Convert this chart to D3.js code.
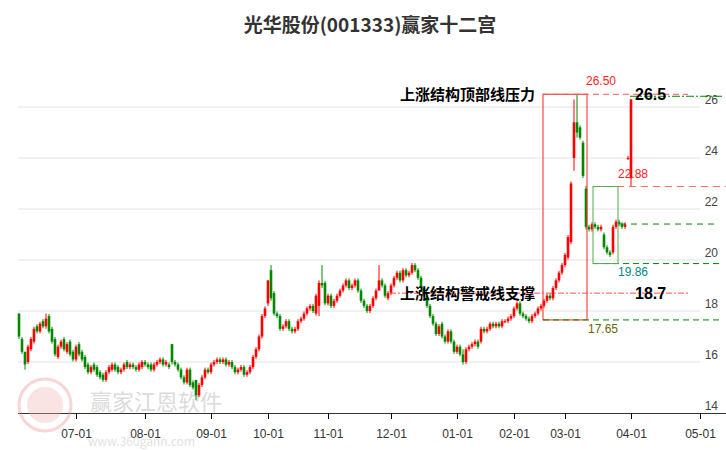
<!DOCTYPE html><html><head><meta charset="utf-8"><script src="https://cdn.jsdelivr.net/npm/d3@7"></script>
<style>body{margin:0;background:#fff}svg{font-family:"Noto Sans CJK SC","Noto Sans",sans-serif}</style></head><body><svg id="c" width="726" height="450"></svg><script>
const closes=[17.0,16.4,15.9,16.6,16.9,17.3,17.2,17.5,17.4,17.7,17.2,16.8,16.3,16.6,16.8,16.5,16.7,16.3,16.1,
16.6,16.3,16.1,15.8,15.6,15.8,15.7,15.5,15.4,15.3,15.6,15.8,15.9,15.7,15.6,15.7,15.9,15.8,15.9,15.8,15.7,15.9,16.0,
15.9,15.8,15.7,15.9,16.0,16.1,15.9,16.0,15.8,16.0,15.9,15.7,15.4,15.2,15.7,15.1,15.0,14.7,15.1,15.4,15.7,15.6,
15.9,16.0,16.1,16.0,16.1,15.9,16.0,15.8,15.6,15.7,15.8,15.5,15.6,15.8,16.2,16.5,17.0,17.8,18.1,
19.2,18.5,17.9,17.8,17.3,17.4,17.6,17.3,17.2,17.3,17.6,17.7,17.9,18.1,18.2,18.0,18.6,19.1,19.0,18.3,
18.6,18.2,18.4,18.6,18.8,19.0,19.2,18.9,19.0,19.2,18.8,18.4,18.2,18.0,18.2,18.5,18.8,19.2,19.0,18.6,18.7,
19.0,19.3,19.5,19.2,19.6,19.4,19.5,19.8,19.6,19.3,18.9,18.6,18.2,17.8,17.5,17.1,17.4,17.0,16.8,17.2,16.8,16.4,
16.6,16.3,16.0,16.5,16.6,16.7,16.8,16.6,17.3,17.2,17.3,17.5,17.4,17.5,17.4,17.6,17.6,17.7,17.8,
18.1,18.3,17.9,17.8,17.7,17.6,17.8,17.9,18.1,18.2,18.4,18.6,18.5,18.9,19.2,19.5,19.8,
20.2,20.9,23.0,25.4,25.0,24.8,23.3,21.3,21.2,21.4,21.3,21.2,21.3,20.5,20.3,20.2,21.3,21.5,21.4,21.3,21.4,24.0,26.3];
const opens=[17.9,16.9,16.4,16.0,16.5,16.8,17.4,17.2,17.6,17.4,17.8,17.3,16.9,16.2,16.6,16.9,16.4,16.8,16.4,
16.1,16.7,16.4,16.2,15.9,15.6,15.9,15.8,15.6,15.5,15.3,15.6,15.7,15.9,15.8,15.6,15.7,16.0,15.8,15.9,15.8,15.7,15.8,
16.0,15.9,15.9,15.7,15.9,16.0,16.1,15.9,15.9,16.7,16.0,15.9,15.7,15.4,15.2,15.7,15.2,15.3,14.7,15.1,15.4,15.7,
15.6,15.9,16.0,16.1,16.0,16.1,15.9,16.0,15.8,15.6,15.7,15.8,15.5,15.6,15.8,16.2,16.5,17.0,17.8,
18.3,19.6,18.7,17.9,17.8,17.3,17.4,17.6,17.3,17.2,17.3,17.6,17.7,17.9,18.1,18.2,17.9,18.2,19.1,19.1,
18.3,18.6,18.2,18.4,18.6,18.8,19.0,19.2,18.9,19.0,19.2,18.8,18.4,18.2,18.0,18.2,18.5,18.8,19.2,19.0,18.5,
18.7,19.0,19.3,19.5,19.2,19.6,19.4,19.5,19.8,19.6,19.3,18.9,18.6,18.2,17.8,17.5,17.1,17.5,17.0,16.8,17.2,16.8,
16.4,16.6,16.3,16.0,16.5,16.6,16.7,16.8,16.8,17.3,17.2,17.3,17.5,17.4,17.5,17.4,17.6,17.6,17.7,
17.8,18.1,18.3,17.9,17.8,17.7,17.6,17.8,17.9,18.1,18.2,18.4,18.6,18.5,18.9,19.2,19.5,
19.8,20.1,20.7,24.0,25.4,25.2,24.6,22.8,21.3,21.2,21.4,21.3,21.2,21.0,20.5,20.3,20.3,21.3,21.5,21.4,21.3,24.0,23.2];
// sparse wick overrides: index -> [high, low]
const wicks={0:[17.9,16.9],2:[16.4,15.7],9:[17.9,17.3],51:[16.7,15.9],59:[15.0,14.5],83:[19.2,18.2],84:[19.8,18.4],100:[19.2,17.8],101:[19.8,18.9],120:[19.8,18.9],148:[16.5,15.9],185:[26.3,23.5],186:[26.5,24.8],189:[22.9,21.2],204:[26.3,22.88]};
const xTickIdx=[19,42,64,83,103,124,146,165,182,204,227];
const xTickLabels=["07-01","08-01","09-01","10-01","11-01","12-01","01-01","02-01","03-01","04-01","05-01"];
const yTicks=[14,16,18,20,22,24,26];
const title="光华股份(001333)赢家十二宫";
const levels={top:26.5,warn:18.7,low:17.65,boxHigh:22.88,boxLow:19.86,mid:21.41};

const svg=d3.select("#c");
const x=d3.scaleLinear().domain([0,228]).range([19,703]);
const y=d3.scaleLinear().domain([14,26]).range([413,107]);
svg.append("text").attr("x",370).attr("y",32).attr("text-anchor","middle").attr("font-size",19).attr("font-weight","bold").attr("fill","#333").text(title);
svg.append("g").selectAll("line").data(yTicks.slice(1)).join("line").attr("x1",18).attr("x2",700).attr("y1",d=>y(d)).attr("y2",d=>y(d)).attr("stroke","#e2e2e2");
svg.append("g").selectAll("text").data(yTicks).join("text").attr("x",718).attr("y",d=>y(d)-3).attr("text-anchor","end").attr("font-size",12).attr("fill","#444").attr("font-family","Liberation Sans, Arial").text(d=>d);
const xa=d3.axisBottom(x).tickValues(xTickIdx).tickFormat((d,i)=>xTickLabels[i]).tickSize(6).tickSizeOuter(0);
const gx=svg.append("g").attr("transform","translate(0,413)").call(xa);
gx.select(".domain").attr("d","M18,0.5H726").attr("stroke","#333");
gx.selectAll("text").attr("font-size",12).attr("dy","1.3em").attr("fill","#333").attr("font-family","Liberation Sans, Arial");
const wm=svg.append("g").attr("opacity",0.35);
wm.append("circle").attr("cx",45).attr("cy",405).attr("r",26).attr("fill","none").attr("stroke","#e88").attr("stroke-width",3);
wm.append("circle").attr("cx",45).attr("cy",405).attr("r",18).attr("fill","#f2b0b0");
wm.append("text").attr("x",90).attr("y",410).attr("font-size",22).attr("fill","#999").text("赢家江恩软件");
wm.append("text").attr("x",88).attr("y",446).attr("font-size",12).attr("fill","#aaa").text("www.360gann.com");
const data=closes.map((c,i)=>{const o=opens[i];const w=wicks[i];return{i,o,c,h:w?w[0]:Math.max(o,c)+0.08,l:w?w[1]:Math.min(o,c)-0.08};});
const cg=svg.append("g");
cg.selectAll("line").data(data).join("line").attr("x1",d=>x(d.i)).attr("x2",d=>x(d.i)).attr("y1",d=>y(d.h)).attr("y2",d=>y(d.l)).attr("stroke",d=>d.c>=d.o?"#f00":"#080");
cg.selectAll("rect").data(data).join("rect").attr("x",d=>x(d.i)-1.3).attr("width",2.6).attr("y",d=>y(Math.max(d.o,d.c))).attr("height",d=>Math.max(1,Math.abs(y(d.o)-y(d.c)))).attr("fill",d=>d.c>=d.o?"#f00":"#080");
const A=svg.append("g");
A.append("rect").attr("x",543).attr("y",y(levels.top)).attr("width",44).attr("height",y(levels.low)-y(levels.top)).attr("fill","none").attr("stroke","#f22").attr("stroke-width",1);
A.append("line").attr("x1",543).attr("x2",688).attr("y1",y(levels.top)).attr("y2",y(levels.top)).attr("stroke","#f55").attr("stroke-dasharray","6,4");
A.append("line").attr("x1",630).attr("x2",722).attr("y1",y(levels.top)+2).attr("y2",y(levels.top)+2).attr("stroke","#080").attr("stroke-dasharray","8,2,2,2");
A.append("line").attr("x1",390).attr("x2",688).attr("y1",y(levels.warn)).attr("y2",y(levels.warn)).attr("stroke","#f55").attr("stroke-dasharray","6,2,2,2");
A.append("line").attr("x1",543).attr("x2",723).attr("y1",y(levels.low)).attr("y2",y(levels.low)).attr("stroke","#080").attr("stroke-dasharray","6,4");
A.append("line").attr("x1",593).attr("x2",726).attr("y1",y(levels.boxHigh)).attr("y2",y(levels.boxHigh)).attr("stroke","#f66").attr("stroke-dasharray","7,5");
A.append("line").attr("x1",593).attr("x2",723).attr("y1",y(levels.boxLow)).attr("y2",y(levels.boxLow)).attr("stroke","#080").attr("stroke-dasharray","6,4");
A.append("line").attr("x1",620).attr("x2",718).attr("y1",y(levels.mid)).attr("y2",y(levels.mid)).attr("stroke","#080").attr("stroke-dasharray","6,5");
A.append("rect").attr("x",593).attr("y",y(levels.boxHigh)).attr("width",25).attr("height",y(levels.boxLow)-y(levels.boxHigh)).attr("fill","none").attr("stroke","#5a5");
A.append("text").attr("x",601).attr("y",85).attr("text-anchor","middle").attr("font-size",12).attr("fill","#f22").attr("font-family","Liberation Sans, Arial").text(levels.top.toFixed(2));
A.append("text").attr("x",633).attr("y",178).attr("text-anchor","middle").attr("font-size",12).attr("fill","#f22").attr("font-family","Liberation Sans, Arial").text(levels.boxHigh.toFixed(2));
A.append("text").attr("x",633).attr("y",276).attr("text-anchor","middle").attr("font-size",12).attr("fill","#088").attr("font-family","Liberation Sans, Arial").text(levels.boxLow.toFixed(2));
A.append("text").attr("x",603).attr("y",333).attr("text-anchor","middle").attr("font-size",12).attr("fill","#660").attr("font-family","Liberation Sans, Arial").text(levels.low.toFixed(2));
A.append("text").attr("x",535).attr("y",100).attr("text-anchor","end").attr("font-size",15).attr("font-weight","bold").attr("fill","#000").text("上涨结构顶部线压力");
A.append("text").attr("x",535).attr("y",299).attr("text-anchor","end").attr("font-size",15).attr("font-weight","bold").attr("fill","#000").text("上涨结构警戒线支撑");
A.append("text").attr("x",635).attr("y",100).attr("font-size",16).attr("font-weight","bold").attr("fill","#000").attr("font-family","Liberation Sans, Arial").text("26.5");
A.append("text").attr("x",635).attr("y",299).attr("font-size",16).attr("font-weight","bold").attr("fill","#000").attr("font-family","Liberation Sans, Arial").text("18.7");
</script></body></html>
